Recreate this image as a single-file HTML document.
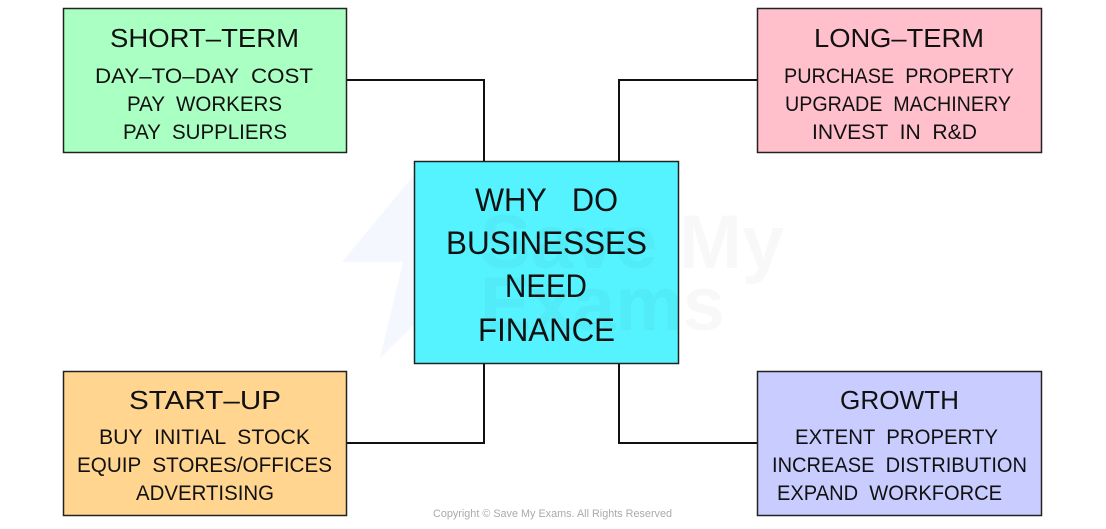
<!DOCTYPE html>
<html>
<head>
<meta charset="utf-8">
<style>
  html,body{margin:0;padding:0;background:#fff;}
  svg{display:block;}
  text{font-family:"Liberation Sans", sans-serif; fill:#111; white-space:pre;}
  .t{font-size:26px;}
  .b{font-size:21px;}
  .c{font-size:32px;}
</style>
</head>
<body>
<svg width="1106" height="529" viewBox="0 0 1106 529" xmlns="http://www.w3.org/2000/svg" xml:space="preserve">
  <!-- watermark -->
  <polygon points="414,175 342,262 403,262 380,358 414,325 414,175" fill="#f4f7fe"/>

  <!-- connectors -->
  <g stroke="#111" stroke-width="2" fill="none">
    <polyline points="347,80 484,80 484,161"/>
    <polyline points="757,80 619,80 619,161"/>
    <polyline points="347,443 484,443 484,364"/>
    <polyline points="757,443 619,443 619,364"/>
  </g>

  <!-- boxes -->
  <g stroke="#222" stroke-width="1.5">
    <rect x="63.5" y="8.5" width="283" height="144" fill="#aaffc3"/>
    <rect x="757.5" y="8.5" width="284" height="144" fill="#ffc0cc"/>
    <rect x="63.5" y="371.5" width="283" height="144" fill="#ffd590"/>
    <rect x="757.5" y="371.5" width="284" height="144" fill="#c9ccff"/>
    <rect x="414.5" y="161.5" width="264" height="202" fill="#55f2ff"/>
  </g>

  <!-- watermark text -->
  <g font-family="Liberation Sans, sans-serif" font-weight="bold" opacity="0.025">
    <text x="480" y="268" font-size="76" style="fill:#000">Save My</text>
    <text x="480" y="330" font-size="76" style="fill:#000">Exams</text>
  </g>

  <!-- Short-term -->
  <text class="t" x="110" y="47" textLength="189" lengthAdjust="spacingAndGlyphs">SHORT–TERM</text>
  <text class="b" x="95" y="83" textLength="218" lengthAdjust="spacingAndGlyphs">DAY–TO–DAY  COST</text>
  <text class="b" x="127" y="111" textLength="155" lengthAdjust="spacingAndGlyphs">PAY  WORKERS</text>
  <text class="b" x="123" y="139" textLength="164" lengthAdjust="spacingAndGlyphs">PAY  SUPPLIERS</text>

  <!-- Long-term -->
  <text class="t" x="814" y="47" textLength="170" lengthAdjust="spacingAndGlyphs">LONG–TERM</text>
  <text class="b" x="784" y="83" textLength="230" lengthAdjust="spacingAndGlyphs">PURCHASE  PROPERTY</text>
  <text class="b" x="785" y="111" textLength="226" lengthAdjust="spacingAndGlyphs">UPGRADE  MACHINERY</text>
  <text class="b" x="812" y="139" textLength="165" lengthAdjust="spacingAndGlyphs">INVEST  IN  R&amp;D</text>

  <!-- Start-up -->
  <text class="t" x="129" y="409" textLength="152" lengthAdjust="spacingAndGlyphs">START–UP</text>
  <text class="b" x="99" y="444" textLength="211" lengthAdjust="spacingAndGlyphs">BUY  INITIAL  STOCK</text>
  <text class="b" x="77" y="472" textLength="255" lengthAdjust="spacingAndGlyphs">EQUIP  STORES/OFFICES</text>
  <text class="b" x="136" y="500" textLength="138" lengthAdjust="spacingAndGlyphs">ADVERTISING</text>

  <!-- Growth -->
  <text class="t" x="840" y="409" textLength="119" lengthAdjust="spacingAndGlyphs">GROWTH</text>
  <text class="b" x="795" y="444" textLength="203" lengthAdjust="spacingAndGlyphs">EXTENT  PROPERTY</text>
  <text class="b" x="772" y="472" textLength="255" lengthAdjust="spacingAndGlyphs">INCREASE  DISTRIBUTION</text>
  <text class="b" x="777" y="500" textLength="225" lengthAdjust="spacingAndGlyphs">EXPAND  WORKFORCE</text>

  <!-- Center -->
  <text class="c" x="475" y="211" textLength="143" lengthAdjust="spacingAndGlyphs">WHY   DO</text>
  <text class="c" x="446" y="254" textLength="201" lengthAdjust="spacingAndGlyphs">BUSINESSES</text>
  <text class="c" x="505" y="297" textLength="82" lengthAdjust="spacingAndGlyphs">NEED</text>
  <text class="c" x="478" y="341" textLength="137" lengthAdjust="spacingAndGlyphs">FINANCE</text>

  <!-- copyright -->
  <text x="433" y="517" font-size="11" textLength="239" lengthAdjust="spacingAndGlyphs" style="fill:#aaa">Copyright © Save My Exams. All Rights Reserved</text>
</svg>
</body>
</html>
